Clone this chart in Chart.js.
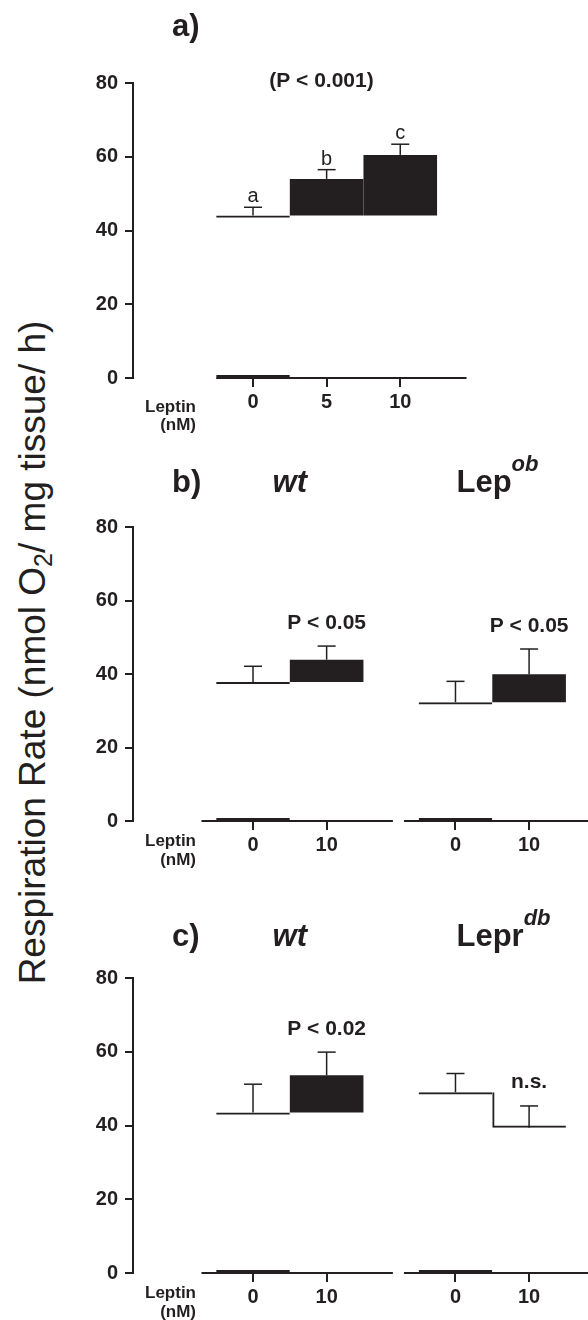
<!DOCTYPE html>
<html>
<head>
<meta charset="utf-8">
<title>Respiration rate and leptin</title>
<script src="https://cdn.jsdelivr.net/npm/chart.js@4.4.1/dist/chart.umd.min.js"></script>
<style>
  html, body { margin: 0; padding: 0; background: #fff; overflow: hidden; }
  #fig { position: relative; width: 588px; height: 1320px; }
  #fig canvas { position: absolute; left: 0; }
  #ytitle {
    position: absolute; left: -318px; top: 634px; width: 700px; height: 37px;
    font: 37px "Liberation Sans", Arial, sans-serif; line-height: 37px;
    color: #231f20; text-align: center; white-space: nowrap;
    transform: rotate(-90deg);
  }
  #ytitle sub { font-size: 25px; line-height: 0; vertical-align: -7px; }
</style>
</head>
<body>
<div id="fig">
  <div id="ytitle">Respiration Rate (nmol O<sub>2</sub>/ mg tissue/ h)</div>
  <canvas id="panelA" width="588" height="438" style="top:0px"></canvas>
  <canvas id="panelB" width="588" height="428" style="top:440px"></canvas>
  <canvas id="panelC" width="588" height="449" style="top:871px"></canvas>
</div>
<script>
var FAM = "'Liberation Sans', Arial, Helvetica, sans-serif";
var INK = "#231f20";
Chart.defaults.font.family = FAM;
Chart.defaults.color = INK;

// a) dose response
var dosesA = ["0", "5", "10"];
var rateA = [44.1, 54.0, 60.5];
var semA = [2.2, 2.5, 2.9];
var lettersA = ["a", "b", "c"];
var pA = "(P < 0.001)";

// b) wt vs Lep ob
var dosesB = ["0", "10"];
var strainsB = ["wt", "Lep"];
var supB = ["", "ob"];
var rateB = [[37.8, 43.9], [32.3, 39.9]];
var semB = [[4.3, 3.7], [5.7, 6.9]];
var pB = ["P < 0.05", "P < 0.05"];

// c) wt vs Lepr db
var dosesC = ["0", "10"];
var strainsC = ["wt", "Lepr"];
var supC = ["", "db"];
var rateC = [[43.5, 53.6], [49.0, 39.4]];
var semC = [[7.7, 6.3], [5.1, 5.9]];
var pC = ["P < 0.02", "n.s."];

var yTicks = [0, 20, 40, 60, 80];

// strains sit this many bar widths apart
var GROUP_STEP = 2.75;

// control bar from 0, leptin bars float from the control mean
function makeBars(doses, rates, sems) {
  var bars = [];
  rates.forEach(function (grp, g) {
    grp.forEach(function (v, i) {
      var ctl = grp[0];
      bars.push({
        x: g * GROUP_STEP + i,
        y: i === 0 ? [0, v] : [ctl, v],
        mean: v,
        sem: sems[g][i],
        group: g,
        dose: i,
        kind: i === 0 ? "ctl" : (v >= ctl ? "up" : "down")
      });
    });
  });
  return bars;
}

function barFill(c) {
  return c.raw && c.raw.kind === "up" ? INK : "rgba(0,0,0,0)";
}

function barBorder(c) {
  var k = c.raw ? c.raw.kind : "ctl";
  if (k === "ctl") return { top: 2, right: 0, bottom: 2, left: 0 };
  if (k === "down") return { top: 0, right: 0, bottom: 2, left: 2 };
  return 0;
}

var extras = {
  panelA: { tag: "a)", tagDy: -47, pTop: pA, letters: lettersA, lead: 0.5, tail: 0.9, leptinDy: 33.5 },
  panelB: { tag: "b)", tagDy: -35, strains: strainsB, sups: supB, sig: pB, lead: 0.7, tail: 0.9, leptinDy: 25 },
  panelC: { tag: "c)", tagDy: -32, strains: strainsC, sups: supC, sig: pC, lead: 0.7, tail: 0.9, leptinDy: 25 }
};

function seg(ctx, x1, y1, x2, y2) {
  ctx.beginPath();
  ctx.moveTo(x1, y1);
  ctx.lineTo(x2, y2);
  ctx.stroke();
}

var figurePlugin = {
  id: "figure",
  afterDraw: function (chart) {
    var ex = extras[chart.canvas.id];
    var ctx = chart.ctx;
    var xs = chart.scales.x, ys = chart.scales.y, area = chart.chartArea;
    var bars = chart.data.datasets[0].data;
    var y0 = ys.getPixelForValue(0);
    var nGroups = bars[bars.length - 1].group + 1;
    var byGroup = [];
    for (var g = 0; g < nGroups; g++) {
      byGroup.push(bars.filter(function (b) { return b.group === g; }));
    }

    ctx.save();
    ctx.strokeStyle = INK;
    ctx.fillStyle = INK;

    // dose axis, one run per strain
    ctx.lineWidth = 2;
    byGroup.forEach(function (gb) {
      seg(ctx, xs.getPixelForValue(gb[0].x - ex.lead), y0,
        xs.getPixelForValue(gb[gb.length - 1].x + ex.tail), y0);
    });

    // SEM whiskers
    ctx.lineWidth = 1.5;
    var caps = bars.map(function (b) {
      var xc = xs.getPixelForValue(b.x);
      var ym = ys.getPixelForValue(b.mean);
      var ye = ys.getPixelForValue(b.mean + b.sem);
      seg(ctx, xc, ym, xc, ye);
      seg(ctx, xc - 9, ye, xc + 9, ye);
      return { x: xc, y: ye };
    });

    ctx.textBaseline = "alphabetic";
    ctx.textAlign = "center";

    if (ex.letters) {
      ctx.font = "20px " + FAM;
      caps.forEach(function (c, i) { ctx.fillText(ex.letters[i], c.x, c.y - 5); });
    }
    if (ex.sig) {
      ctx.font = "bold 21px " + FAM;
      byGroup.forEach(function (gb, g) {
        var c = caps[bars.indexOf(gb[gb.length - 1])];
        ctx.fillText(ex.sig[g], c.x, c.y - 17.5);
      });
    }
    if (ex.pTop) {
      ctx.font = "bold 21px " + FAM;
      ctx.fillText(ex.pTop, xs.getPixelForValue(0.93), area.top + 4);
    }

    // Leptin (nM) caption left of dose labels
    ctx.textAlign = "right";
    ctx.font = "bold 17px " + FAM;
    ctx.fillText("Leptin", area.left + 63, y0 + ex.leptinDy);
    ctx.fillText("(nM)", area.left + 63, y0 + ex.leptinDy + 18.5);

    // panel tag and strain names
    var ty = area.top + ex.tagDy;
    ctx.textAlign = "left";
    ctx.font = "bold 31px " + FAM;
    ctx.fillText(ex.tag, 172, ty);
    if (ex.strains) {
      ex.strains.forEach(function (s, g) {
        var gb = byGroup[g];
        if (ex.sups[g]) {
          var xl = xs.getPixelForValue(gb[0].x) + 1;
          ctx.textAlign = "left";
          ctx.font = "bold 31px " + FAM;
          ctx.fillText(s, xl, ty);
          var w = ctx.measureText(s).width;
          ctx.font = "italic bold 22px " + FAM;
          ctx.fillText(ex.sups[g], xl + w, ty - 21);
        } else {
          ctx.textAlign = "center";
          ctx.font = "italic bold 31px " + FAM;
          ctx.fillText(s, xs.getPixelForValue((gb[0].x + gb[gb.length - 1].x) / 2), ty);
        }
      });
    }
    ctx.restore();
  }
};

function drawPanel(id, doses, rates, sems, padTop, axisH) {
  var bars = makeBars(doses, rates, sems);
  var ticksX = bars.map(function (b) { return b.x; });
  var labelsX = bars.map(function (b) { return doses[b.dose]; });
  return new Chart(document.getElementById(id), {
    type: "bar",
    data: {
      datasets: [{
        data: bars,
        backgroundColor: barFill,
        borderColor: INK,
        borderWidth: barBorder,
        borderSkipped: false,
        inflateAmount: 0,
        barPercentage: 1,
        categoryPercentage: 1
      }]
    },
    options: {
      responsive: false,
      animation: false,
      events: [],
      layout: { padding: { top: padTop, left: 0, right: 0, bottom: 0 } },
      plugins: { legend: { display: false }, tooltip: { enabled: false } },
      scales: {
        x: {
          type: "linear",
          min: -1.63,
          max: 4.55,
          bounds: "data",
          offset: false,
          grid: { offset: false, drawOnChartArea: false, drawTicks: true, tickLength: 9, lineWidth: 2, color: INK },
          border: { display: false },
          ticks: {
            autoSkip: false, maxRotation: 0, padding: 3, color: INK,
            font: { size: 20, weight: "bold" },
            callback: function (v, i) { return labelsX[i]; }
          },
          afterBuildTicks: function (s) { s.ticks = ticksX.map(function (v) { return { value: v }; }); },
          afterFit: function (s) { s.height = axisH; }
        },
        y: {
          min: yTicks[0],
          max: yTicks[yTicks.length - 1],
          grid: { drawOnChartArea: false, tickLength: 8, lineWidth: 2, color: INK },
          border: { display: true, width: 2, color: INK },
          ticks: { padding: 7, color: INK, font: { size: 20, weight: "bold" } },
          afterBuildTicks: function (s) { s.ticks = yTicks.map(function (v) { return { value: v }; }); },
          afterFit: function (s) { s.width = 133; }
        }
      }
    },
    plugins: [figurePlugin]
  });
}

drawPanel("panelA", dosesA, [rateA], [semA], 83, 60);
drawPanel("panelB", dosesB, rateB, semB, 87, 47);
drawPanel("panelC", dosesC, rateC, semC, 107, 47);
</script>
</body>
</html>
